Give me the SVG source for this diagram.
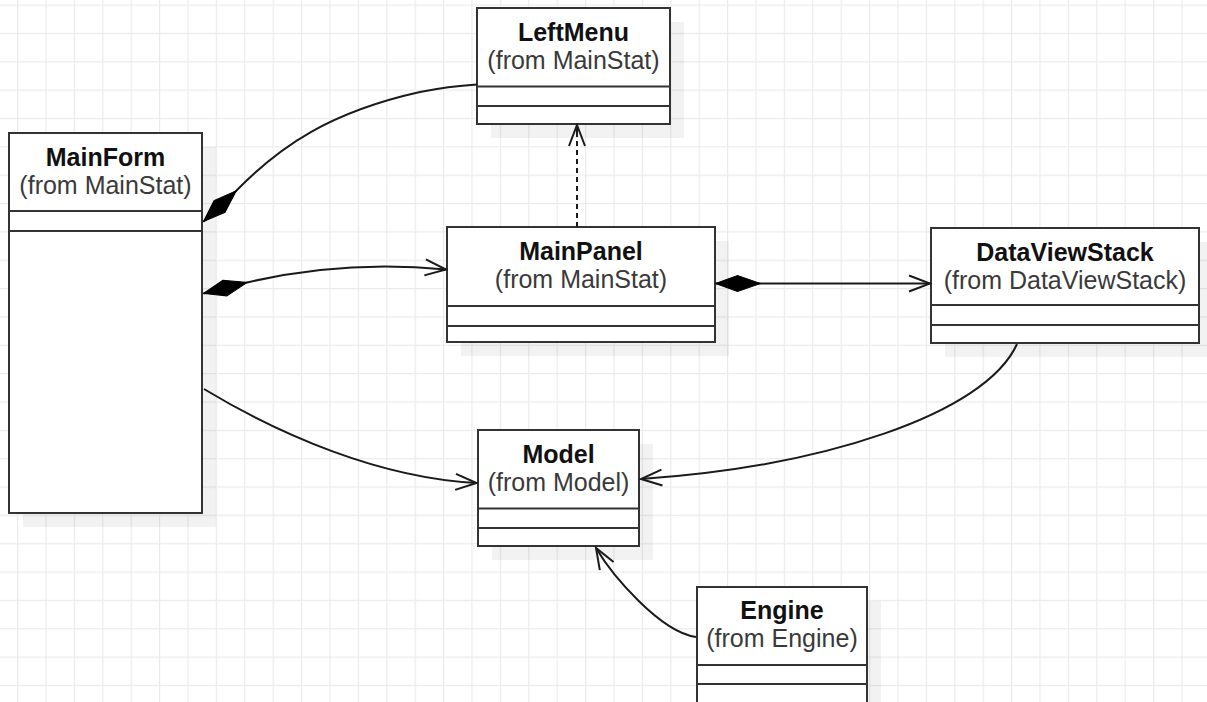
<svg xmlns="http://www.w3.org/2000/svg" width="1207" height="702" viewBox="0 0 1207 702">
  <defs>
    <pattern id="grid" patternUnits="userSpaceOnUse" x="17" y="4.5" width="28.4" height="28.35">
      <path d="M0.5,0 V28.35 M0,0.5 H28.4" fill="none" stroke="#ebebeb" stroke-width="1.4"/>
    </pattern>
    <marker id="diamond" markerUnits="userSpaceOnUse" markerWidth="50" markerHeight="20" viewBox="-2 -10 50 20" refX="0" refY="0" orient="auto">
      <path d="M0,0 L22,-8 L45,0 L22,8 Z" fill="#000" stroke="#000" stroke-width="1"/>
    </marker>
    <marker id="open" markerUnits="userSpaceOnUse" markerWidth="26" markerHeight="22" viewBox="-24 -11 26 22" refX="0" refY="0" orient="auto">
      <path d="M-21,-8 L0,0 L-21,8" fill="none" stroke="#1a1a1a" stroke-width="2" stroke-linejoin="miter"/>
    </marker>
    <style>
      .box { fill: #fff; stroke: #333; stroke-width: 2; }
      .shadow { fill: #000; fill-opacity: 0.05; }
      .sep { stroke: #333; stroke-width: 2; fill: none; }
      .title { font-family: "Liberation Sans", Arial, sans-serif; font-size: 25px; font-weight: bold; fill: #111; text-anchor: middle; }
      .sub { font-family: "Liberation Sans", Arial, sans-serif; font-size: 25px; fill: #3a3a3a; text-anchor: middle; }
      .edge { fill: none; stroke: #1a1a1a; stroke-width: 2; }
      .dashed { stroke-dasharray: 5 4; }
    </style>
  </defs>

  <!-- background grid -->
  <rect x="0" y="0" width="1207" height="702" fill="#fff"/>
  <rect x="0" y="0" width="1207" height="702" fill="url(#grid)"/>

  <!-- class: MainForm -->
  <g id="MainForm">
    <rect class="shadow" x="23" y="147" width="193" height="380"/>
    <rect class="box" x="9" y="133" width="193" height="380"/>
    <path class="sep" d="M9,211 H202 M9,231 H202"/>
    <text class="title" x="105.5" y="166">MainForm</text>
    <text class="sub" x="105.5" y="194">(from MainStat)</text>
  </g>

  <!-- class: LeftMenu -->
  <g id="LeftMenu">
    <rect class="shadow" x="491" y="22" width="193" height="116"/>
    <rect class="box" x="477" y="8" width="193" height="116"/>
    <path class="sep" d="M477,86.5 H670 M477,106 H670"/>
    <text class="title" x="573.5" y="41">LeftMenu</text>
    <text class="sub" x="573.5" y="69">(from MainStat)</text>
  </g>

  <!-- class: MainPanel -->
  <g id="MainPanel">
    <rect class="shadow" x="461" y="241" width="268" height="115"/>
    <rect class="box" x="447" y="227" width="268" height="115"/>
    <path class="sep" d="M447,306 H715 M447,326 H715"/>
    <text class="title" x="581" y="260">MainPanel</text>
    <text class="sub" x="581" y="288">(from MainStat)</text>
  </g>

  <!-- class: DataViewStack -->
  <g id="DataViewStack">
    <rect class="shadow" x="945" y="242" width="268" height="115"/>
    <rect class="box" x="931" y="228" width="268" height="115"/>
    <path class="sep" d="M931,305 H1199 M931,325 H1199"/>
    <text class="title" x="1065" y="261">DataViewStack</text>
    <text class="sub" x="1065" y="289">(from DataViewStack)</text>
  </g>

  <!-- class: Model -->
  <g id="Model">
    <rect class="shadow" x="492" y="444" width="161" height="116"/>
    <rect class="box" x="478" y="430" width="161" height="116"/>
    <path class="sep" d="M478,508.5 H639 M478,528 H639"/>
    <text class="title" x="558.5" y="462.5">Model</text>
    <text class="sub" x="558.5" y="490.5">(from Model)</text>
  </g>

  <!-- class: Engine -->
  <g id="Engine">
    <rect class="shadow" x="711" y="601" width="170" height="117"/>
    <rect class="box" x="697" y="587" width="170" height="117"/>
    <path class="sep" d="M697,665 H867 M697,684 H867"/>
    <text class="title" x="782" y="619">Engine</text>
    <text class="sub" x="782" y="647">(from Engine)</text>
  </g>

  <!-- relationships -->
  <g id="connectors">
    <!-- MainForm composes LeftMenu -->
    <path class="edge" marker-start="url(#diamond)" d="M203.5,221.5 L236.5,190.5 C280,146 330,112 420,92 C445,87 462,85.5 477,84.5"/>
    <!-- MainForm composes MainPanel -->
    <path class="edge" marker-start="url(#diamond)" marker-end="url(#open)" d="M203.5,293.5 L247,282.5 C300,270 370,262 446,269.5"/>
    <!-- MainPanel composes DataViewStack -->
    <path class="edge" marker-start="url(#diamond)" marker-end="url(#open)" d="M715.5,283.5 L930,283.5"/>
    <!-- MainPanel depends on LeftMenu -->
    <path class="edge dashed" d="M577,227 L577,127"/>
    <path class="edge" marker-end="url(#open)" d="M577,132 L577,125"/>
    <!-- MainForm uses Model -->
    <path class="edge" marker-end="url(#open)" d="M204,389 C280,435 380,478 476.5,483"/>
    <!-- DataViewStack uses Model -->
    <path class="edge" marker-end="url(#open)" d="M1017,344 C985,415 820,467 641,479"/>
    <!-- Engine uses Model -->
    <path class="edge" marker-end="url(#open)" d="M696,637 C660,632 612,575 596,548"/>
  </g>
</svg>
